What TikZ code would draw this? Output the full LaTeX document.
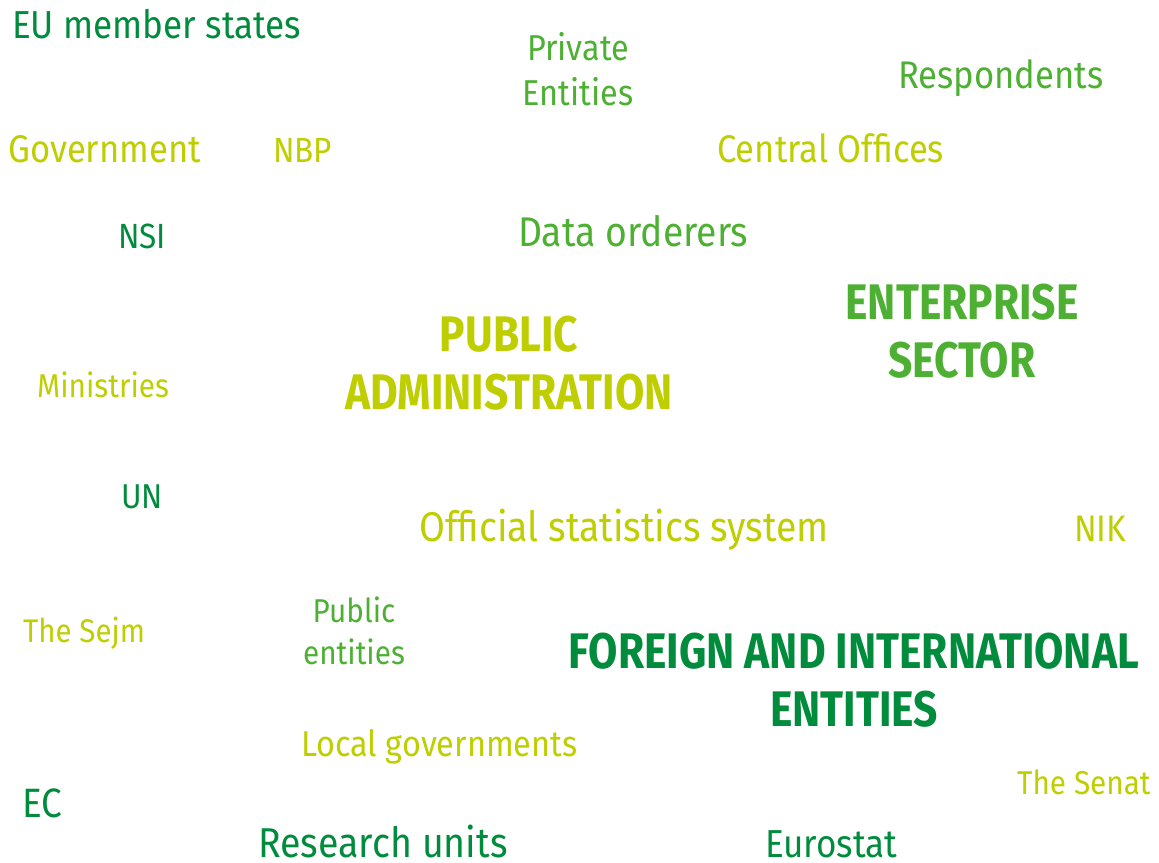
\documentclass[tikz,border=0pt]{standalone}
\usepackage{fontspec}
\setmainfont{Fira Sans}[FakeStretch=0.9,BoldFeatures={FakeStretch=0.85}]
\usepackage{xcolor}
\definecolor{darkgreen}{HTML}{008C3C}
\definecolor{midgreen}{HTML}{4DB033}
\definecolor{limegreen}{HTML}{BECE00}
\newcommand{\fs}[2][1.15]{\fontsize{#2}{#1\dimexpr#2pt\relax}\selectfont}
\tikzset{word/.style={inner sep=0pt,anchor=base west,font=\fs{#1}},
         stack/.style={inner sep=0pt,anchor=base,align=center,font=\fs[1.25]{#1}},
         bigword/.style={inner sep=0pt,anchor=base,align=center,font=\fs{#1}\bfseries}}

\begin{document}
\begin{tikzpicture}[x=1pt,y=-1pt]
  \useasboundingbox (0,0) rectangle (1159,862);

  % words, placed at their baselines (last line for the stacked ones)
  \node[word=39,darkgreen] (eu) at (12,38) {EU member states};
  \node[stack=36,midgreen] (priv) at (578,105) {Private\\Entities};
  \node[word=38.5,midgreen] (resp) at (898,88) {Respondents};
  \node[word=38.5,limegreen] (gov) at (8,162) {Government};
  \node[word=35,limegreen] (nbp) at (273,162) {NBP};
  \node[word=38.5,limegreen] (central) at (717,162) {Central Offices};
  \node[word=35,darkgreen] (nsi) at (118,248) {NSI};
  \node[word=41.5,midgreen] (orderers) at (518,246) {Data orderers};
  \node[bigword=50,midgreen] (enterprise) at (962,377) {ENTERPRISE\\SECTOR};
  \node[bigword=50,limegreen] (pubadm) at (509,409) {PUBLIC\\ADMINISTRATION};
  \node[word=33,limegreen] (ministries) at (37,397) {Ministries};
  \node[word=34.5,darkgreen] (un) at (121,508) {UN};
  \node[word=41.6,limegreen] (oss) at (419,541) {Official statistics system};
  \node[word=37,limegreen] (nik) at (1074,541) {NIK};
  \node[word=32.7,limegreen] (sejm) at (23,642) {The Sejm};
  \node[stack=33,midgreen] (pubent) at (354,664) {Public\\entities};
  \node[bigword=50,darkgreen] (foreign) at (854,726) {FOREIGN AND INTERNATIONAL\\ENTITIES};
  \node[word=36,limegreen] (localgov) at (301,756) {Local governments};
  \node[word=33,limegreen] (senat) at (1017,794) {The Senat};
  \node[word=41,darkgreen] (ec) at (22,817) {EC};
  \node[word=41.7,darkgreen] (research) at (258,857) {Research units};
  \node[word=39,darkgreen] (eurostat) at (765,857) {Eurostat};
\end{tikzpicture}
\end{document}
